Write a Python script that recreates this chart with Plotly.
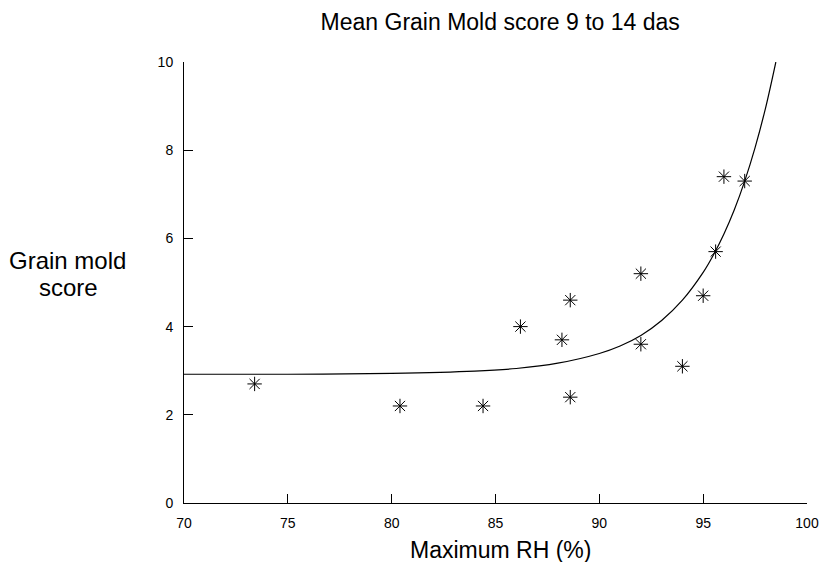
import plotly.graph_objects as go

max_rh = [73.4, 80.4, 84.4, 86.2, 88.2, 88.6, 88.6, 92.0, 92.0, 94.0, 95.0, 95.6, 96.0, 97.0]
mold_score = [2.7, 2.2, 2.2, 4.0, 3.7, 4.6, 2.4, 5.2, 3.6, 3.1, 4.7, 5.7, 7.4, 7.3]

# Fitted curve samples
curve_rh = [70, 75, 80, 84, 86, 88, 90, 91, 92, 93, 94, 95, 95.5, 96, 96.5, 97, 97.5, 98, 98.5]
curve_score = [2.92, 2.92, 2.94, 2.99, 3.05, 3.17, 3.39, 3.56, 3.80, 4.14, 4.60, 5.23, 5.63, 6.10, 6.65, 7.30, 8.06, 8.95, 10.0]

x_ticks = [70, 75, 80, 85, 90, 95, 100]
y_ticks = [0, 2, 4, 6, 8, 10]

FONT = "Liberation Sans, Arial, sans-serif"

# page body has an 8px margin; figure sized so page is exactly 827x570
OFF = 8
W, H = 811, 554
PL, PR, PT, PB = 183.5, 807.0, 61.7, 502.7   # plot area in page pixels
PW, PH = PR - PL, PB - PT


def px(xp):
    return (xp - PL) / PW


def py(yp):
    return (PB - yp) / PH


fig = go.Figure()
fig.add_trace(go.Scatter(x=curve_rh, y=curve_score, mode="lines",
                         line=dict(color="black", width=1.2, shape="spline"),
                         hoverinfo="skip", showlegend=False))
fig.add_trace(go.Scatter(x=max_rh, y=mold_score, mode="markers",
                         marker=dict(symbol="asterisk-open", size=12, color="black",
                                     line=dict(color="black", width=1)),
                         showlegend=False))

axis_common = dict(showline=True, linecolor="black", linewidth=1, ticks="inside",
                   ticklen=9, tickwidth=1, tickcolor="black", showgrid=False,
                   zeroline=False, automargin=False,
                   tickfont=dict(family=FONT, size=14, color="black"))

fig.update_layout(
    width=W, height=H,
    margin=dict(l=PL - OFF, r=W - (PR - OFF), t=PT - OFF, b=H - (PB - OFF)),
    plot_bgcolor="white", paper_bgcolor="white",
    font=dict(family=FONT, color="black"),
    xaxis=dict(range=[70, 100], tickvals=x_ticks, ticklabelstandoff=7, **axis_common),
    yaxis=dict(range=[0, 10], tickvals=y_ticks, ticklabelstandoff=7, **axis_common),
    title=dict(text="Mean Grain Mold score 9 to 14 das", x=px(500), xref="paper",
               xanchor="center", y=1 - (22 - OFF) / H, yref="container", yanchor="middle",
               font=dict(family=FONT, size=23, color="black")),
    annotations=[
        dict(text="Maximum RH (%)", xref="paper", yref="paper", x=px(500),
             y=py(550), xanchor="center", yanchor="middle",
             showarrow=False, font=dict(family=FONT, size=23, color="black")),
        dict(text="Grain mold", xref="paper", yref="paper", x=px(67),
             y=py(260), xanchor="center", yanchor="middle",
             showarrow=False, font=dict(family=FONT, size=24, color="black")),
        dict(text="score", xref="paper", yref="paper", x=px(67.5),
             y=py(287), xanchor="center", yanchor="middle",
             showarrow=False, font=dict(family=FONT, size=24, color="black")),
    ],
)

fig.write_html("out.html")
